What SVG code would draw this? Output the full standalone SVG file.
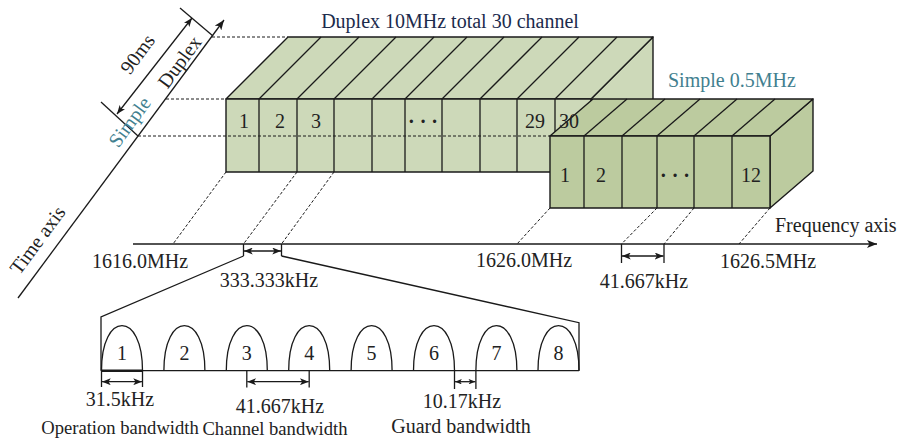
<svg xmlns="http://www.w3.org/2000/svg" xmlns:xlink="http://www.w3.org/1999/xlink" width="902" height="439" viewBox="0 0 902 439">
  <defs>
    <style>
      .ln { stroke: #1a1a1a; stroke-width: 1.3; fill: none; }
      .dash { stroke: #1a1a1a; stroke-width: 1; fill: none; stroke-dasharray: 3 2; }
      .edge { stroke: #1a1a1a; stroke-width: 1.4; stroke-linejoin: round; }
      .big { fill: #cdd9b9; }
      .small { fill: #bccb9f; }
      .t { font-family: "Liberation Serif", "Times New Roman", serif; font-size: 20px; fill: #222; }
      .mid { text-anchor: middle; }
      .navy { fill: #1c2b4c; }
      .teal { fill: #427f8f; }
      .dots { font-weight: bold; }
      .cap { font-size: 18.6px; }
    </style>
    <marker id="ah" viewBox="0 0 10 8" refX="10" refY="4" markerWidth="9" markerHeight="7" markerUnits="userSpaceOnUse" orient="auto-start-reverse">
      <path d="M0,0 L10,4 L0,8 L2.5,4 z" fill="#1a1a1a"/>
    </marker>
    <marker id="ahs" viewBox="0 0 10 8" refX="10" refY="4" markerWidth="7" markerHeight="5.5" markerUnits="userSpaceOnUse" orient="auto-start-reverse">
      <path d="M0,0 L10,4 L0,8 L2.5,4 z" fill="#1a1a1a"/>
    </marker>
    <marker id="axh" viewBox="0 0 10 8" refX="10" refY="4" markerWidth="11" markerHeight="8" markerUnits="userSpaceOnUse" orient="auto">
      <path d="M0,0 L10,4 L0,8 L2.5,4 z" fill="#1a1a1a"/>
    </marker>
    <path id="bell" d="M0,0 C0,-30 10,-45 20.5,-45 C31,-45 41,-30 41,0" class="ln"/>
  </defs>

  <!-- time axis with the 90 ms frame dimension -->
  <g id="time-axis">
    <line x1="18" y1="298" x2="224" y2="20" class="ln" marker-end="url(#axh)"/>
    <line x1="180" y1="8" x2="213" y2="36" class="ln"/>
    <line x1="101" y1="102" x2="138" y2="136" class="ln"/>
    <line x1="192" y1="18" x2="117" y2="114" class="ln" marker-start="url(#ah)" marker-end="url(#ah)"/>
    <text class="t mid" transform="translate(143,58) rotate(-53.5)">90ms</text>
    <text class="t mid" transform="translate(185,66) rotate(-53.5)">Duplex</text>
    <text class="t mid teal" transform="translate(135,126) rotate(-53.5)">Simple</text>
    <text class="t mid" transform="translate(43,244) rotate(-53.5)">Time axis</text>
  </g>

  <!-- duplex block: 30 channels of 333.333 kHz -->
  <g id="duplex-block">
    <polygon class="big edge" points="591,99 653,37 653,110 591,172"/>
    <polygon class="big edge" points="226,99 288,37 653,37 591,99"/>
    <rect class="big edge" x="226" y="99" width="365" height="73"/>
    <g class="ln">
      <line x1="259" y1="99" x2="259" y2="172"/>
      <line x1="297" y1="99" x2="297" y2="172"/>
      <line x1="334" y1="99" x2="334" y2="172"/>
      <line x1="372" y1="99" x2="372" y2="172"/>
      <line x1="405" y1="99" x2="405" y2="172"/>
      <line x1="442" y1="99" x2="442" y2="172"/>
      <line x1="480" y1="99" x2="480" y2="172"/>
      <line x1="517" y1="99" x2="517" y2="172"/>
      <line x1="555" y1="99" x2="555" y2="172"/>
      <line x1="259" y1="99" x2="321" y2="37"/>
      <line x1="297" y1="99" x2="359" y2="37"/>
      <line x1="334" y1="99" x2="396" y2="37"/>
      <line x1="372" y1="99" x2="434" y2="37"/>
      <line x1="405" y1="99" x2="467" y2="37"/>
      <line x1="442" y1="99" x2="504" y2="37"/>
      <line x1="480" y1="99" x2="542" y2="37"/>
      <line x1="517" y1="99" x2="579" y2="37"/>
      <line x1="555" y1="99" x2="617" y2="37"/>
    </g>
    <text class="t mid" x="244" y="128">1</text>
    <text class="t mid" x="280" y="128">2</text>
    <text class="t mid" x="316" y="128">3</text>
    <text class="t mid dots" x="423" y="128">· · ·</text>
    <text class="t mid" x="535" y="128">29</text>
  </g>

  <!-- dashed level guides from the time axis -->
  <g id="level-guides">
    <line x1="212" y1="37" x2="288" y2="37" class="dash"/>
    <line x1="166" y1="99" x2="226" y2="99" class="dash"/>
    <line x1="138" y1="136" x2="550" y2="136" class="dash"/>
  </g>

  <!-- simplex block: 12 channels of 41.667 kHz -->
  <g id="simple-block">
    <polygon class="small edge" points="770,136 813,99 813,171 770,208"/>
    <polygon class="small edge" points="550,136 593,99 813,99 770,136"/>
    <rect class="small edge" x="550" y="136" width="220" height="72"/>
    <g class="ln">
      <line x1="584" y1="136" x2="584" y2="208"/>
      <line x1="622" y1="136" x2="622" y2="208"/>
      <line x1="657" y1="136" x2="657" y2="208"/>
      <line x1="694" y1="136" x2="694" y2="208"/>
      <line x1="732" y1="136" x2="732" y2="208"/>
      <line x1="584" y1="136" x2="627" y2="99"/>
      <line x1="622" y1="136" x2="665" y2="99"/>
      <line x1="657" y1="136" x2="700" y2="99"/>
      <line x1="694" y1="136" x2="737" y2="99"/>
      <line x1="732" y1="136" x2="775" y2="99"/>
    </g>
    <text class="t mid" x="565" y="182">1</text>
    <text class="t mid" x="601" y="182">2</text>
    <text class="t mid dots" x="675" y="182">· · ·</text>
    <text class="t mid" x="751" y="182">12</text>
  </g>

  <!-- label of the last duplex channel, printed over the simplex top face -->
  <text class="t mid" x="569" y="128">30</text>

  <!-- block titles -->
  <g id="titles">
    <text class="t mid navy" x="450" y="28">Duplex 10MHz total 30 channel</text>
    <text class="t teal" x="668" y="87">Simple 0.5MHz</text>
  </g>

  <!-- projections of channel edges onto the frequency axis -->
  <g id="connectors">
    <line x1="226" y1="172" x2="173" y2="244" class="dash"/>
    <line x1="297" y1="172" x2="243.5" y2="244" class="dash"/>
    <line x1="334" y1="172" x2="281.5" y2="244" class="dash"/>
    <line x1="550" y1="208" x2="517" y2="244" class="dash"/>
    <line x1="657" y1="208" x2="621.5" y2="244" class="dash"/>
    <line x1="694" y1="208" x2="664" y2="244" class="dash"/>
    <line x1="770" y1="208" x2="739" y2="244" class="dash"/>
  </g>

  <!-- frequency axis -->
  <g id="freq-axis">
    <line x1="133" y1="244" x2="877" y2="244" class="ln" marker-end="url(#axh)"/>
    <text class="t" x="775" y="232">Frequency axis</text>
    <text class="t mid" x="140" y="268">1616.0MHz</text>
    <text class="t mid" x="524" y="267">1626.0MHz</text>
    <text class="t mid" x="768" y="268">1626.5MHz</text>
    <line x1="243.5" y1="244" x2="243.5" y2="256" class="ln"/>
    <line x1="281.5" y1="244" x2="281.5" y2="256" class="ln"/>
    <line x1="244" y1="251" x2="281" y2="251" class="ln" marker-start="url(#ah)" marker-end="url(#ah)"/>
    <text class="t mid" x="269" y="287">333.333kHz</text>
    <line x1="621.5" y1="244" x2="621.5" y2="263" class="ln"/>
    <line x1="664" y1="244" x2="664" y2="263" class="ln"/>
    <line x1="622" y1="256" x2="663.5" y2="256" class="ln" marker-start="url(#ah)" marker-end="url(#ah)"/>
    <text class="t mid" x="644" y="288">41.667kHz</text>
  </g>

  <!-- enlarged view of one 333.333 kHz channel -->
  <g id="zoom-detail">
    <polyline points="243.5,256 101,317 101,370.7" class="ln"/>
    <polyline points="281.5,256 579,322.7 579,370.7" class="ln"/>
    <line x1="101" y1="370.7" x2="579" y2="370.7" class="ln"/>
    <line x1="101" y1="370.7" x2="142.5" y2="370.7" stroke="#1a1a1a" stroke-width="2.6"/>
    <use xlink:href="#bell" x="101.5" y="370.7"/>
    <use xlink:href="#bell" x="163.9" y="370.7"/>
    <use xlink:href="#bell" x="226.3" y="370.7"/>
    <use xlink:href="#bell" x="288.7" y="370.7"/>
    <use xlink:href="#bell" x="351.1" y="370.7"/>
    <use xlink:href="#bell" x="413.5" y="370.7"/>
    <use xlink:href="#bell" x="475.9" y="370.7"/>
    <use xlink:href="#bell" x="538" y="370.7"/>
    <text class="t mid" x="122" y="360">1</text>
    <text class="t mid" x="184.4" y="360">2</text>
    <text class="t mid" x="246.8" y="360">3</text>
    <text class="t mid" x="309.2" y="360">4</text>
    <text class="t mid" x="371.6" y="360">5</text>
    <text class="t mid" x="434" y="360">6</text>
    <text class="t mid" x="496.4" y="360">7</text>
    <text class="t mid" x="558.5" y="360">8</text>
  </g>

  <!-- bandwidth dimensions -->
  <g id="bandwidths">
    <line x1="101.5" y1="370.7" x2="101.5" y2="387" class="ln"/>
    <line x1="142.5" y1="370.7" x2="142.5" y2="387" class="ln"/>
    <line x1="102" y1="381.7" x2="142" y2="381.7" class="ln" marker-start="url(#ah)" marker-end="url(#ah)"/>
    <text class="t mid" x="120" y="406">31.5kHz</text>
    <text class="t mid cap" x="120" y="434">Operation bandwidth</text>

    <line x1="246.8" y1="370.7" x2="246.8" y2="387.5" class="ln"/>
    <line x1="309.2" y1="370.7" x2="309.2" y2="387.5" class="ln"/>
    <line x1="247.3" y1="381.7" x2="308.7" y2="381.7" class="ln" marker-start="url(#ah)" marker-end="url(#ah)"/>
    <text class="t mid" x="280" y="413">41.667kHz</text>
    <text class="t mid cap" x="275" y="434.5">Channel bandwidth</text>

    <line x1="454.5" y1="370.7" x2="454.5" y2="389" class="ln"/>
    <line x1="475.9" y1="370.7" x2="475.9" y2="389" class="ln"/>
    <line x1="455" y1="381.7" x2="475.4" y2="381.7" class="ln" marker-start="url(#ahs)" marker-end="url(#ahs)"/>
    <text class="t mid" x="462" y="408">10.17kHz</text>
    <text class="t mid" x="461" y="433">Guard bandwidth</text>
  </g>
</svg>
